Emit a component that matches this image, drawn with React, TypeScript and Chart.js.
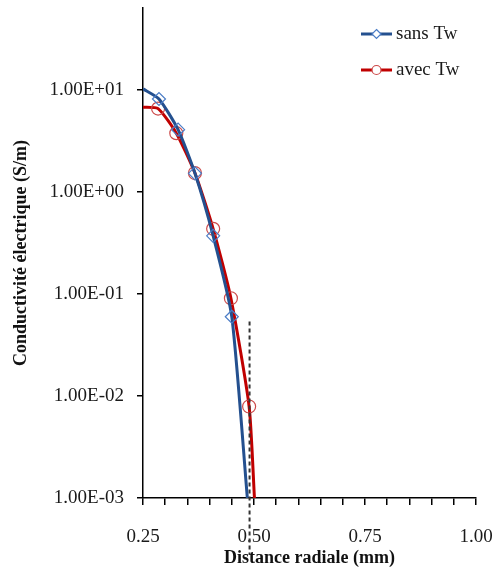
import React, { useEffect, useRef } from 'react';
import { Chart, registerables } from 'chart.js';

Chart.register(...registerables);

// ---- data ----
const seriesNames = ['sans Tw', 'avec Tw'];
const sansTwX = [0.25, 0.286, 0.329, 0.367, 0.408, 0.45, 0.485];
const sansTwY = [10.3, 8.2, 4.1, 1.53, 0.373, 0.06, 0.001];
const sansTwMarker = [false, true, true, true, true, true, false];
const avecTwX = [0.25, 0.284, 0.325, 0.367, 0.408, 0.448, 0.489, 0.501];
const avecTwY = [6.8, 6.6, 3.79, 1.54, 0.437, 0.091, 0.0079, 0.001];
const avecTwMarker = [false, true, true, true, true, true, true, false];
const yTickValues = [0.001, 0.01, 0.1, 1, 10];
const xTickValues = [0.25, 0.3, 0.35, 0.4, 0.45, 0.5, 0.55, 0.6, 0.65, 0.7, 0.75, 0.8, 0.85, 0.9, 0.95, 1.0];
const xTickLabels = ['0.25', '0.50', '0.75', '1.00'];
const refLineX = 0.49;
const refLineTop = 0.054;

const SERIF = '"Liberation Serif", "Times New Roman", serif';
const BLUE_LINE = '#24508f';
const BLUE_MARK = '#4a7cc6';
const RED_LINE = '#c00000';
const RED_MARK = '#cc4a4a';

function fmtE(v: number): string {
  const e = Math.round(Math.log10(v));
  const sign = e < 0 ? '-' : '+';
  return '1.00E' + sign + String(Math.abs(e)).padStart(2, '0');
}

function drawMarker(ctx: CanvasRenderingContext2D, style: string, x: number, y: number, r: number, color: string) {
  ctx.save();
  ctx.beginPath();
  if (style === 'rectRot') {
    ctx.moveTo(x, y - r);
    ctx.lineTo(x + r, y);
    ctx.lineTo(x, y + r);
    ctx.lineTo(x - r, y);
    ctx.closePath();
  } else {
    ctx.arc(x, y, r, 0, Math.PI * 2);
  }
  ctx.fillStyle = '#ffffff';
  ctx.fill();
  ctx.strokeStyle = color;
  ctx.lineWidth = 1.2;
  ctx.stroke();
  ctx.restore();
}

const customLegend = {
  id: 'customLegend',
  afterDraw(chart: any) {
    const ctx = chart.ctx as CanvasRenderingContext2D;
    const area = chart.chartArea;
    const lx = area.right - 115;
    const ly = area.top + 26;
    chart.data.datasets.forEach((ds: any, i: number) => {
      const y = ly + i * 36;
      ctx.save();
      ctx.strokeStyle = ds.borderColor;
      ctx.lineWidth = 3;
      ctx.beginPath();
      ctx.moveTo(lx, y);
      ctx.lineTo(lx + 31, y);
      ctx.stroke();
      ctx.restore();
      drawMarker(ctx, ds.pointStyle, lx + 15.5, y, 4.5, ds.pointBorderColor);
      ctx.save();
      ctx.fillStyle = '#1a1a1a';
      ctx.font = '19px ' + SERIF;
      ctx.textBaseline = 'middle';
      ctx.textAlign = 'left';
      ctx.fillText(ds.label, lx + 35, y);
      ctx.restore();
    });
  },
};

const refLine = {
  id: 'refLine',
  afterDatasetsDraw(chart: any) {
    const ctx = chart.ctx as CanvasRenderingContext2D;
    const xs = chart.scales.x;
    const ys = chart.scales.y;
    const x = xs.getPixelForValue(refLineX);
    const top = ys.getPixelForValue(refLineTop);
    const bottom = chart.chartArea.bottom + 57;
    ctx.save();
    ctx.strokeStyle = '#333333';
    ctx.lineWidth = 2;
    ctx.setLineDash([4, 3]);
    ctx.beginPath();
    ctx.moveTo(x, top);
    ctx.lineTo(x, bottom);
    ctx.stroke();
    ctx.restore();
  },
};

export default function App() {
  const canvasRef = useRef<HTMLCanvasElement | null>(null);

  useEffect(() => {
    if (!canvasRef.current) return;
    const sansData = sansTwX.map((x, i) => ({ x, y: sansTwY[i] }));
    const avecData = avecTwX.map((x, i) => ({ x, y: avecTwY[i] }));

    const chart = new Chart(canvasRef.current, {
      type: 'line',
      data: {
        datasets: [
          {
            label: seriesNames[0],
            data: sansData,
            borderColor: BLUE_LINE,
            borderWidth: 3,
            pointStyle: 'rectRot',
            pointRadius: sansTwMarker.map((m) => (m ? 6.5 : 0)),
            pointBorderColor: BLUE_MARK,
            pointBackgroundColor: 'rgba(255,255,255,0)',
            pointBorderWidth: 1.2,
            tension: 0.2,
            fill: false,
          },
          {
            label: seriesNames[1],
            data: avecData,
            borderColor: RED_LINE,
            borderWidth: 3,
            pointStyle: 'circle',
            pointRadius: avecTwMarker.map((m) => (m ? 6.5 : 0)),
            pointBorderColor: RED_MARK,
            pointBackgroundColor: 'rgba(255,255,255,0)',
            pointBorderWidth: 1.2,
            tension: 0.2,
            fill: false,
          },
        ],
      },
      options: {
        animation: false,
        responsive: false,
        maintainAspectRatio: false,
        layout: { padding: { top: 8, right: 16, left: 0, bottom: 0 } },
        plugins: {
          legend: { display: false },
          tooltip: { enabled: false },
        },
        scales: {
          x: {
            type: 'linear',
            min: 0.25,
            max: 1.0,
            afterBuildTicks: (scale: any) => {
              scale.ticks = xTickValues.map((v) => ({ value: v }));
            },
            afterFit: (scale: any) => {
              scale.height = 81;
              scale.paddingLeft = 0;
              scale.paddingRight = 0;
            },
            ticks: {
              autoSkip: false,
              maxRotation: 0,
              padding: 21,
              color: '#1a1a1a',
              font: { family: SERIF, size: 19 },
              callback: (v: any) => {
                const idx = Math.round(v / 0.25) - 1;
                if (Math.abs(v / 0.25 - Math.round(v / 0.25)) < 1e-6) return xTickLabels[idx];
                return '';
              },
            },
            grid: {
              drawOnChartArea: false,
              drawTicks: true,
              tickLength: 7,
              color: '#000000',
              lineWidth: 1.5,
            },
            border: { display: true, color: '#000000', width: 1.5 },
            title: {
              display: true,
              text: 'Distance radiale (mm)',
              color: '#111111',
              font: { family: SERIF, size: 18, weight: 'bold' },
              padding: { top: 0, bottom: 10 },
            },
          },
          y: {
            type: 'logarithmic',
            min: 0.001,
            max: 64,
            afterBuildTicks: (scale: any) => {
              scale.ticks = yTickValues.map((v) => ({ value: v }));
            },
            afterFit: (scale: any) => {
              scale.width = 143;
              scale.paddingTop = 0;
              scale.paddingBottom = 0;
            },
            ticks: {
              padding: 13,
              color: '#1a1a1a',
              font: { family: SERIF, size: 19 },
              callback: (v: any) => fmtE(Number(v)),
            },
            grid: {
              drawOnChartArea: false,
              drawTicks: true,
              tickLength: 6,
              color: '#000000',
              lineWidth: 1.5,
            },
            border: { display: true, color: '#000000', width: 1.5 },
            title: {
              display: true,
              text: 'Conductivité électrique (S/m)',
              color: '#111111',
              font: { family: SERIF, size: 18, weight: 'bold' },
              padding: { top: 11, bottom: 0 },
            },
          },
        },
      },
      plugins: [refLine, customLegend],
    } as any);

    return () => chart.destroy();
  }, []);

  return (
    <div style={{ position: 'absolute', left: 0, top: 0, width: 492, height: 579, background: '#ffffff' }}>
      <canvas ref={canvasRef} width={492} height={579} style={{ display: 'block', width: 492, height: 579 }} />
    </div>
  );
}
